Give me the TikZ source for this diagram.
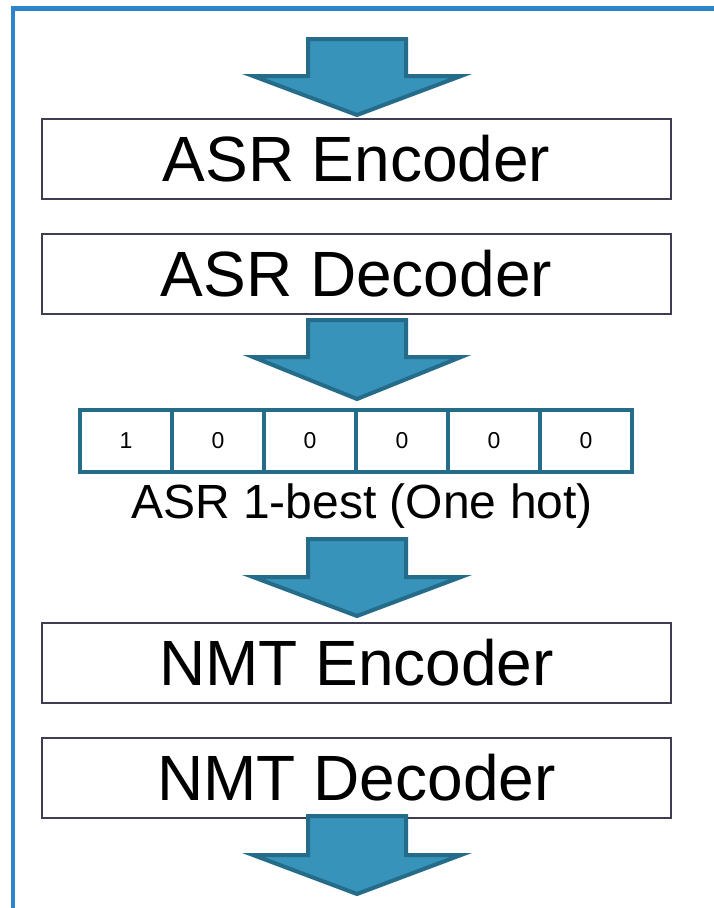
\documentclass[tikz,border=0pt]{standalone}
\usepackage{fontspec}
\setmainfont{Liberation Sans}
\definecolor{framecol}{HTML}{2B85C8}
\definecolor{arrfill}{HTML}{3793BA}
\definecolor{arrline}{HTML}{256B8A}
\definecolor{boxline}{HTML}{3E3D52}
\tikzset{
  stagebox/.style={draw=boxline, line width=2pt, fill=white, minimum width=629pt, minimum height=80pt, inner sep=0pt, font=\fontsize{64}{64}\selectfont},
  hotcell/.style={draw=arrline, line width=4pt, fill=white, minimum width=92pt, minimum height=62pt, inner sep=0pt, font=\fontsize{23}{23}\selectfont},
  blockarrow/.style={draw=arrline, fill=arrfill, line width=4pt, line join=miter},
  framestyle/.style={draw=framecol, line width=4.5pt}
}
\newcommand{\blockarr}[3]{%
  \draw[blockarrow] (308,#1) -- (406,#1) -- (406,#2) -- (461,#2) -- (357,#3) -- (253,#2) -- (308,#2) -- cycle;}
\begin{document}
\begin{tikzpicture}[x=1pt,y=-1pt]
\useasboundingbox (0,0) rectangle (714,908);
\fill[white] (0,0) rectangle (714,908);
\coordinate (fbl) at (13,910);
\coordinate (ftl) at (13,8.5);
\coordinate (ftr) at (716,8.5);
\draw[framestyle] (fbl) -- (ftl) -- (ftr);

\node[stagebox] (asrenc) at (356.5,159) {ASR Encoder};
\node[stagebox] (asrdec) at (356.5,274) {ASR Decoder};

\foreach \i/\v in {0/1,1/0,2/0,3/0,4/0,5/0} {
  \node[hotcell] (c\i) at ({126+92*\i},441) {\v};
}
\node[font=\fontsize{48}{48}\selectfont, inner sep=0pt] (lbl) at (362,506) {ASR 1-best (One hot)};

\node[stagebox] (nmtenc) at (356.5,663) {NMT Encoder};
\node[stagebox] (nmtdec) at (356.5,778) {NMT Decoder};

\blockarr{39}{76}{115}
\blockarr{320}{357}{399}
\blockarr{539}{577}{616}
\blockarr{816}{855}{894}
\end{tikzpicture}
\end{document}
